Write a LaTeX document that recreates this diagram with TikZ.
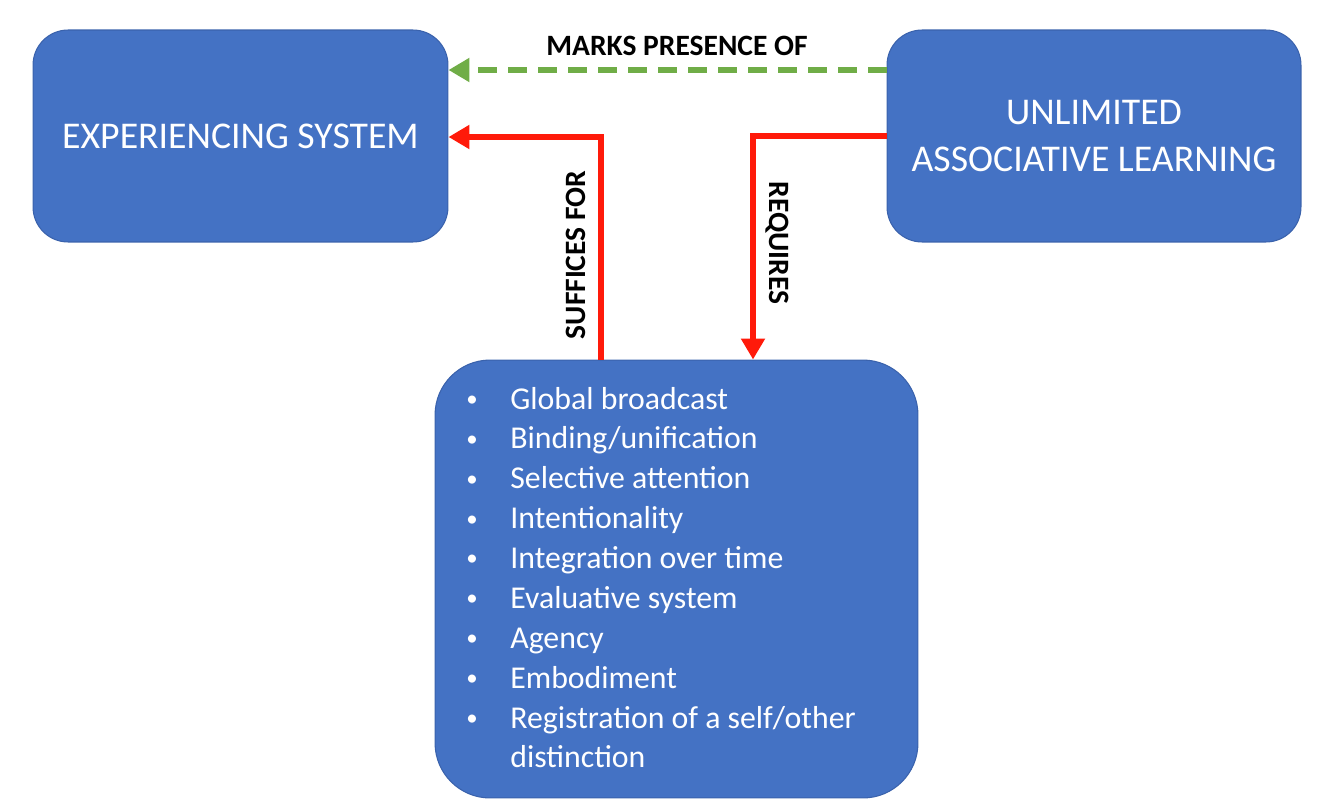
\documentclass[tikz,border=0pt]{standalone}
\usepackage{fontspec}
\setmainfont{Carlito}
\usetikzlibrary{arrows.meta}

\definecolor{boxblue}{HTML}{4472C4}
\definecolor{boxedge}{HTML}{3A62AC}
\definecolor{linkred}{HTML}{FF1A0A}
\definecolor{linkgreen}{HTML}{70AD47}

\newcommand{\featbullet}{\raisebox{0.08em}{\scalebox{0.72}{\textbullet}}}

\tikzset{
  sysbox/.style={draw=boxedge, line width=0.6pt, fill=boxblue, rounded corners=0.7cm,
    text=white, align=center, font=\fontsize{21.5}{27.2}\selectfont},
  redlink/.style={draw=linkred, line width=3.3pt,
    -{Triangle[length=0.42cm, width=0.46cm]}},
  greenlink/.style={draw=linkgreen, line width=3pt, dash pattern=on 0.38cm off 0.22cm,
    -{Triangle[length=0.42cm, width=0.46cm]}},
  linklabel/.style={font=\fontsize{16.8}{18}\selectfont\bfseries, text=black, inner sep=0pt}
}

\begin{document}
\begin{tikzpicture}[x=0.02cm, y=-0.02cm]
\useasboundingbox (0,0) rectangle (1318,805);

% the three boxes
\node[sysbox, minimum width=8.3cm, minimum height=4.24cm] (exper) at (240.5,136) {EXPERIENCING SYSTEM};
\node[sysbox, minimum width=8.28cm, minimum height=4.24cm] (assoc) at (1094,136) {UNLIMITED\\ASSOCIATIVE LEARNING};
\node[sysbox, rounded corners=1.1cm, minimum width=9.66cm, minimum height=8.76cm] (feat) at (676.5,579) {};

% list of features
\node[anchor=base west, inner sep=0pt, text=white, align=left,
  font=\fontsize{18.1}{22.7}\selectfont] (list) at (466,409)
{\begin{tabular}[t]{@{}p{0.88cm}@{}l@{}}
\featbullet & Global broadcast\\
\featbullet & Binding/unification\\
\featbullet & Selective attention\\
\featbullet & Intentionality\\
\featbullet & Integration over time\\
\featbullet & Evaluative system\\
\featbullet & Agency\\
\featbullet & Embodiment\\
\featbullet & Registration of a self/other\\
 & distinction
\end{tabular}};

% links
\draw[greenlink] (assoc.west |- 0,70) -- (exper.east |- 0,70);
\draw[redlink] (assoc.west |- 0,136) -| (feat.north -| 753,0);
\draw[redlink] (feat.north -| 601,0) |- (exper.east |- 0,137);

\node[linklabel] (marks) at (677,46) {MARKS PRESENCE OF};
\node[linklabel, rotate=90] (suff) at (576,255) {SUFFICES FOR};
\node[linklabel, rotate=-90] (req) at (777,243) {REQUIRES};
\end{tikzpicture}
\end{document}
